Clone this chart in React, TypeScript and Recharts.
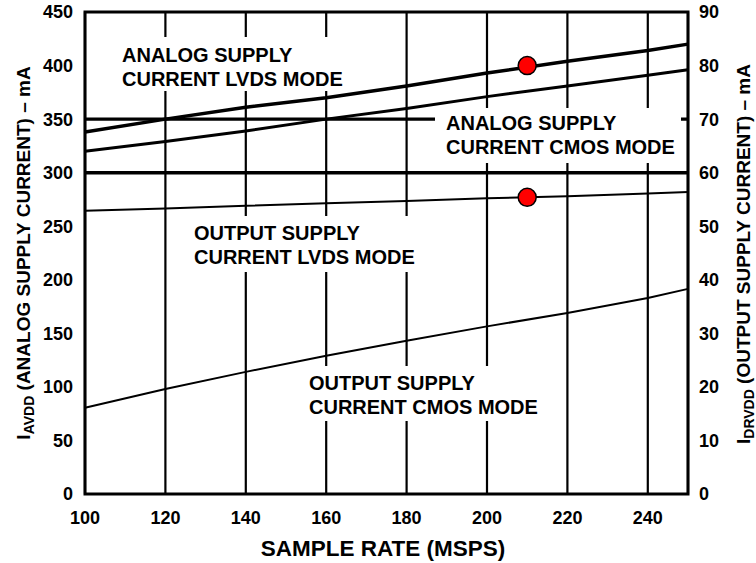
import React from 'react';
import {
  ComposedChart,
  Line,
  XAxis,
  YAxis,
  CartesianGrid,
  ReferenceLine,
  ReferenceDot
} from 'recharts';

const FONT = '"Liberation Sans", Arial, Helvetica, sans-serif';

// sample rate (MSPS)
const sampleRates = [100, 120, 140, 160, 180, 200, 220, 240, 250];
// left axis, mA
const analogLvds = [338, 350, 361, 370, 381, 393, 404, 414, 420];
const analogCmos = [320, 329, 339, 350, 360, 371, 381, 391, 396];
// right axis, mA
const outputLvds = [52.9, 53.3, 53.8, 54.3, 54.7, 55.2, 55.6, 56.1, 56.4];
const outputCmos = [16.1, 19.6, 22.8, 25.8, 28.6, 31.3, 33.8, 36.6, 38.3];

const xTicks = [100, 120, 140, 160, 180, 200, 220, 240];
const leftTicks = [0, 50, 100, 150, 200, 250, 300, 350, 400, 450];
const rightTicks = [0, 10, 20, 30, 40, 50, 60, 70, 80, 90];

// highlighted points
const markers = [
  { x: 210, y: 400, axis: 'left' },
  { x: 210, y: 55.4, axis: 'right' }
];

const data = sampleRates.map((x, i) => ({
  x,
  analogLvds: analogLvds[i],
  analogCmos: analogCmos[i],
  outputLvds: outputLvds[i],
  outputCmos: outputCmos[i]
}));

// curve annotations (white boxes break the grid like the original)
const notes = [
  { box: [110, 37, 242, 54], x: 122, y: 62, lines: ['ANALOG SUPPLY', 'CURRENT LVDS MODE'] },
  { box: [435, 108, 246, 55], x: 446, y: 130, lines: ['ANALOG SUPPLY', 'CURRENT CMOS MODE'] },
  { box: [179, 216, 247, 56], x: 194, y: 240, lines: ['OUTPUT SUPPLY', 'CURRENT LVDS MODE'] },
  { box: [295, 366, 243, 55], x: 309, y: 390, lines: ['OUTPUT SUPPLY', 'CURRENT CMOS MODE'] }
];

const tickStyle = { fill: '#000', fontSize: 18, fontWeight: 'bold', fontFamily: FONT };

const App = () => {
  return (
    <div style={{ position: 'absolute', left: 0, top: 0, width: 756, height: 563, background: '#fff' }}>
      <ComposedChart
        width={756}
        height={563}
        data={data}
        margin={{ top: 12, right: 8, left: 25, bottom: 29 }}
      >
        <CartesianGrid stroke="#000" strokeWidth={2.2} />
        <XAxis
          dataKey="x"
          type="number"
          domain={[100, 250]}
          ticks={xTicks}
          height={40}
          tickSize={0}
          tickMargin={17}
          axisLine={false}
          tick={tickStyle}
        />
        <YAxis
          yAxisId="left"
          domain={[0, 450]}
          ticks={leftTicks}
          width={60}
          tickSize={0}
          tickMargin={12}
          axisLine={false}
          tick={tickStyle}
        />
        <YAxis
          yAxisId="right"
          orientation="right"
          domain={[0, 90]}
          ticks={rightTicks}
          width={60}
          tickSize={0}
          tickMargin={11}
          axisLine={false}
          tick={{ ...tickStyle, textAnchor: 'start' }}
        />
        <ReferenceLine yAxisId="left" y={300} stroke="#000" strokeWidth={3.5} />
        <ReferenceLine yAxisId="left" y={350} stroke="#000" strokeWidth={3.2} />
        <Line yAxisId="left" dataKey="analogLvds" stroke="#000" strokeWidth={3.5} dot={false} isAnimationActive={false} />
        <Line yAxisId="left" dataKey="analogCmos" stroke="#000" strokeWidth={3} dot={false} isAnimationActive={false} />
        <Line yAxisId="right" dataKey="outputLvds" stroke="#000" strokeWidth={2} dot={false} isAnimationActive={false} />
        <Line yAxisId="right" dataKey="outputCmos" stroke="#000" strokeWidth={2} dot={false} isAnimationActive={false} />
        {markers.map((m, i) => (
          <ReferenceDot
            key={i}
            yAxisId={m.axis}
            x={m.x}
            y={m.y}
            r={9}
            fill="#ff0000"
            stroke="#000"
            strokeWidth={1.5}
          />
        ))}
      </ComposedChart>

      <svg
        width={756}
        height={563}
        style={{ position: 'absolute', left: 0, top: 0, pointerEvents: 'none' }}
        fontFamily={FONT}
        fontWeight="bold"
      >
        {notes.map((n, i) => (
          <g key={i}>
            <rect x={n.box[0]} y={n.box[1]} width={n.box[2]} height={n.box[3]} fill="#fff" />
            {n.lines.map((t, j) => (
              <text key={j} x={n.x} y={n.y + j * 23.5} fontSize={20} fill="#000">
                {t}
              </text>
            ))}
          </g>
        ))}

        {/* plot frame */}
        <rect x={85} y={12} width={603} height={482} fill="none" stroke="#000" strokeWidth={3} />

        <text x={383} y={556} fontSize={22.5} textAnchor="middle" fill="#000">
          SAMPLE RATE (MSPS)
        </text>

        <text transform="rotate(-90, 30, 253)" x={30} y={253} fontSize={19} textAnchor="middle" fill="#000">
          I
          <tspan fontSize={14} dy={4}>AVDD</tspan>
          <tspan dy={-4}> (ANALOG SUPPLY CURRENT) – mA</tspan>
        </text>
        <text transform="rotate(-90, 750, 254)" x={750} y={254} fontSize={19} textAnchor="middle" fill="#000">
          I
          <tspan fontSize={14} dy={4}>DRVDD</tspan>
          <tspan dy={-4}> (OUTPUT SUPPLY CURRENT) – mA</tspan>
        </text>
      </svg>
    </div>
  );
};

export default App;
